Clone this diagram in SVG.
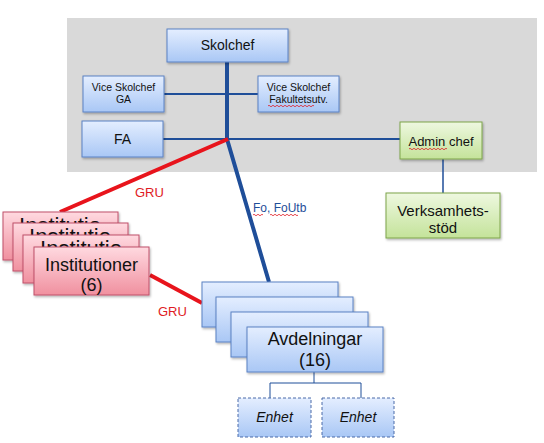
<svg xmlns="http://www.w3.org/2000/svg" width="544" height="443" viewBox="0 0 544 443">
<defs>
<linearGradient id="gBlue" x1="0" y1="0" x2="0" y2="1"><stop offset="0" stop-color="#e4eeff"/><stop offset="1" stop-color="#a9c7f5"/></linearGradient>
<linearGradient id="gPink" x1="0" y1="0" x2="0" y2="1"><stop offset="0" stop-color="#ffd9e0"/><stop offset="1" stop-color="#f0909f"/></linearGradient>
<linearGradient id="gGreen" x1="0" y1="0" x2="0" y2="1"><stop offset="0" stop-color="#eef8e0"/><stop offset="1" stop-color="#c4e39a"/></linearGradient>
<filter id="sh" x="-10%" y="-10%" width="130%" height="140%"><feDropShadow dx="1" dy="1.5" stdDeviation="1" flood-color="#000" flood-opacity="0.3"/></filter>
<clipPath id="c1"><rect x="3" y="212" width="115" height="11"/></clipPath>
<clipPath id="c2"><rect x="13" y="223" width="115" height="12"/></clipPath>
<clipPath id="c3"><rect x="23" y="235" width="116" height="12"/></clipPath>
</defs>
<style>
.bb{fill:url(#gBlue);stroke:#5b82c4;stroke-width:1;filter:url(#sh)}
.pb{fill:url(#gPink);stroke:#c0506a;stroke-width:1;filter:url(#sh)}
.gb{fill:url(#gGreen);stroke:#7ea54a;stroke-width:1;filter:url(#sh)}
.db{fill:url(#gBlue);stroke:#4a6aa8;stroke-width:1;stroke-dasharray:3 2}
text{font-family:"Liberation Sans",Arial,sans-serif;fill:#111;text-anchor:middle}
.t14{font-size:14px}.t10{font-size:10.5px}.t13{font-size:13px}.t15{font-size:15px}.t18{font-size:18px}.t22{font-size:22px}
.it{font-size:14px;font-style:italic}
.lbr{font-size:13px;fill:#e01b24;text-anchor:start}
.lbb{font-size:12px;fill:#1f4e99;text-anchor:start}
.blue{stroke:#1f4e99;fill:none}
.red{stroke:#e8141c;stroke-width:4;fill:none}
.sq{stroke:#e01b24;stroke-width:0.8;fill:none}
</style>
<rect x="67" y="18" width="470" height="154" fill="#d9d9d9"/>
<g id="connectors">
<path class="blue" stroke-width="2" d="M164 94H258"/>
<path class="blue" stroke-width="2" d="M163 139H400"/>
<path class="blue" stroke-width="4" d="M227 62V139L269 282"/>
<path class="blue" stroke-width="1.5" d="M443 159V193"/>
<path class="red" d="M228 139L60 212"/>
<path class="red" d="M150 275L202 303"/>
<path class="blue" stroke-width="1" stroke="#4a6aa8" d="M314 372V383M270 398V383H361V398"/>
</g>
<text class="lbr" x="135" y="197">GRU</text>
<text class="lbb" x="253" y="212">Fo, FoUtb</text>
<path class="sq" d="M253 215q1 -1.5 2 0t2 0t2 0t2 0t2 0M270 215q1 -1.5 2 0t2 0t2 0t2 0t2 0t2 0t2 0t2 0t2 0t2 0t2 0t2 0t2 0t2 0"/>
<text class="lbr" x="158" y="316">GRU</text>
<g id="skolchef"><rect class="bb" x="167" y="29" width="121" height="33"/><text class="t14" x="227.5" y="50">Skolchef</text></g>
<g id="vice-ga"><rect class="bb" x="83" y="76" width="81" height="36"/><text class="t10" x="123.5" y="91">Vice Skolchef</text><text class="t10" x="123.5" y="103">GA</text></g>
<g id="vice-fak"><rect class="bb" x="258" y="76" width="81" height="36"/><text class="t10" x="298.5" y="91">Vice Skolchef</text><text class="t10" x="298.5" y="103">Fakultetsutv.</text><path class="sq" d="M268 106q1 -1.5 2 0t2 0t2 0t2 0t2 0t2 0t2 0t2 0t2 0t2 0t2 0t2 0t2 0t2 0t2 0t2 0t2 0t2 0t2 0t2 0t2 0t2 0t2 0"/></g>
<g id="fa"><rect class="bb" x="82" y="121" width="81" height="36"/><text class="t14" x="122.5" y="144">FA</text></g>
<g id="admin"><rect class="gb" x="400" y="122" width="82" height="37"/><text class="t13" x="441" y="146">Admin chef</text><path class="sq" d="M409 149q1 -1.5 2 0t2 0t2 0t2 0t2 0t2 0t2 0t2 0t2 0t2 0t2 0t2 0t2 0t2 0t2 0t2 0t2 0t2 0t2 0"/></g>
<g id="verksamhetsstod"><rect class="gb" x="386" y="193" width="114" height="45"/><text class="t15" x="443" y="216">Verksamhets-</text><text class="t15" x="443" y="233">stöd</text></g>
<g id="institutioner">
<rect class="pb" x="3" y="212" width="115" height="48"/><text class="t22" x="60" y="233" clip-path="url(#c1)">Institutio</text>
<rect class="pb" x="13" y="223" width="115" height="48"/><text class="t22" x="70" y="244" clip-path="url(#c2)">Institutio</text>
<rect class="pb" x="23" y="235" width="116" height="48"/><text class="t22" x="81" y="256" clip-path="url(#c3)">Institutio</text>
<rect class="pb" x="34" y="247" width="115" height="48"/><text class="t18" x="91.5" y="271">Institutioner</text><text class="t18" x="91.5" y="291">(6)</text>
</g>
<g id="avdelningar">
<rect class="bb" x="202" y="282" width="136" height="45"/>
<rect class="bb" x="216" y="297" width="137" height="45"/>
<rect class="bb" x="231" y="312" width="137" height="45"/>
<rect class="bb" x="247" y="327" width="136" height="45"/><text class="t18" x="315" y="345">Avdelningar</text><text class="t18" x="315" y="366">(16)</text>
</g>
<g id="enhet1"><rect class="db" x="238" y="398" width="73" height="39"/><text class="it" x="274.5" y="422">Enhet</text></g>
<g id="enhet2"><rect class="db" x="322" y="398" width="72" height="39"/><text class="it" x="358" y="422">Enhet</text></g>
</svg>
